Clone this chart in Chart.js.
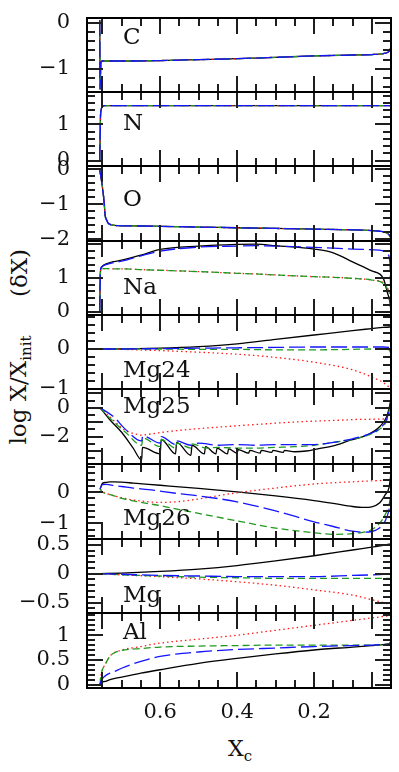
<!DOCTYPE html>
<html>
<head>
<meta charset="utf-8">
<script src="https://cdn.jsdelivr.net/npm/chart.js@4/dist/chart.umd.min.js"></script>
<style>
  html, body { margin: 0; padding: 0; background: #fff; }
  #wrap { position: relative; width: 399px; height: 772px; overflow: hidden;
          font-family: "DejaVu Serif", serif; color: #111; }
  canvas { position: absolute; left: 0; }
  .title { position: absolute; white-space: nowrap; font-size: 23px; line-height: 1; }
  .rot { transform: translate(-50%, -50%) rotate(-90deg); }
  .title sub { font-size: 15px; vertical-align: -5px; }
</style>
</head>
<body>
<div id="wrap">
  <div class="title rot" style="left:20px; top:390px">log X/X<sub>init</sub></div>
  <div class="title rot" style="left:19px; top:273px">(δX)</div>
  <div class="title" style="left:228px; top:738px; font-size:22px">X<sub>c</sub></div>
</div>
<script>
// Abundance tracks against central hydrogen fraction, nine stacked panels.

// --- x axis (central H mass fraction, reversed) ---
const X_MAX = 0.79;
const X_MAJOR = [0.75, 0.6, 0.4, 0.2, 0.05];
const X_LABELS = [0.6, 0.4, 0.2];

// --- C ---
const C_X = [0.757, 0.756, 0.754, 0.75, 0.70, 0.60, 0.50, 0.40, 0.30, 0.20, 0.10, 0.05, 0.02, 0.008, 0.003, 0.0];
const C_Y = [0.05, -1.44, -0.86, -0.83, -0.83, -0.82, -0.80, -0.78, -0.75, -0.72, -0.70, -0.69, -0.67, -0.64, -0.60, -0.53];

// --- N ---
const N_X = [0.757, 0.756, 0.755, 0.753, 0.75, 0.745, 0.70, 0.40, 0.0];
const N_Y = [0.0, 0.6, 1.2, 1.42, 1.5, 1.52, 1.52, 1.52, 1.52];

// --- O ---
const O_X = [0.757, 0.754, 0.751, 0.748, 0.745, 0.743, 0.739, 0.735, 0.725, 0.71, 0.65, 0.60, 0.50, 0.40, 0.30, 0.20, 0.10, 0.05, 0.03, 0.015, 0.005, 0.0];
const O_Y = [0.0, -0.2, -0.42, -0.67, -1.0, -1.3, -1.45, -1.54, -1.59, -1.61, -1.62, -1.63, -1.65, -1.67, -1.69, -1.71, -1.73, -1.75, -1.77, -1.80, -1.87, -1.97];

// --- Na ---
const NA_X = [0.757, 0.756, 0.755, 0.753, 0.75, 0.74, 0.72, 0.70, 0.65, 0.60, 0.50, 0.40, 0.35, 0.30, 0.20, 0.15, 0.10, 0.05, 0.02, 0.01, 0.003, 0.0];
const NA_BLACK = [0.0, 0.8, 1.2, 1.3, 1.35, 1.42, 1.49, 1.53, 1.68, 1.85, 1.95, 2.0, 2.01, 1.96, 1.86, 1.75, 1.48, 1.21, 0.99, 0.59, 0.29, 0.0];
const NA_BLUE = [0.0, 0.8, 1.25, 1.32, 1.35, 1.4, 1.46, 1.5, 1.66, 1.8, 1.92, 1.95, 1.96, 1.95, 1.91, 1.89, 1.86, 1.84, 1.81, 1.73, 1.48, 0.2];
const NA_GREEN = [0.0, 0.8, 1.2, 1.27, 1.28, 1.28, 1.27, 1.27, 1.25, 1.23, 1.19, 1.14, 1.12, 1.09, 1.04, 1.02, 0.99, 0.94, 0.84, 0.69, 0.44, -0.05];
const NA_RED = [0.0, 0.8, 1.2, 1.27, 1.28, 1.28, 1.27, 1.27, 1.25, 1.23, 1.19, 1.14, 1.12, 1.09, 1.04, 1.02, 0.99, 0.94, 0.86, 0.72, 0.5, 0.2];

// --- shared coarse grid (Mg24, Mg) ---
const G_X = [0.756, 0.70, 0.60, 0.50, 0.40, 0.30, 0.20, 0.10, 0.05, 0.02, 0.005, 0.0];
const MG24_BLACK = [0, 0.0, 0.02, 0.06, 0.13, 0.24, 0.35, 0.46, 0.51, 0.54, 0.55, 0.56];
const MG24_BLUE = [0, 0.0, 0.01, 0.02, 0.03, 0.04, 0.05, 0.05, 0.05, 0.05, 0.04, -0.1];
const MG24_GREEN = [0, 0.0, 0.0, -0.01, -0.01, -0.02, -0.02, -0.01, 0.0, 0.0, -0.02, -0.12];
const MG24_RED = [0, -0.01, -0.04, -0.08, -0.13, -0.21, -0.33, -0.52, -0.70, -0.84, -0.95, -1.0];

// --- Mg25 (sawtooth from convective episodes) ---
const MG25_BLACK_X = [0.756, 0.73, 0.70, 0.67, 0.648, 0.646, 0.600, 0.597, 0.560, 0.557, 0.520, 0.517, 0.485, 0.482, 0.455, 0.452, 0.425, 0.422, 0.40, 0.397, 0.37, 0.367, 0.34, 0.337, 0.31, 0.307, 0.28, 0.277, 0.25, 0.22, 0.19, 0.15, 0.106, 0.063, 0.029, 0.011, 0.003, 0.0];
const MG25_BLACK = [0.0, -0.85, -1.7, -2.8, -3.62, -2.75, -3.2, -2.2, -3.2, -2.4, -3.3, -2.6, -3.2, -2.7, -3.2, -2.8, -3.2, -2.85, -3.15, -2.9, -3.15, -2.95, -3.15, -2.95, -3.1, -2.95, -3.1, -2.95, -3.05, -3.0, -2.85, -2.65, -2.25, -1.9, -1.3, -0.6, 0.2, 0.6];
const MG25_GREEN_X = [0.756, 0.72, 0.69, 0.648, 0.645, 0.60, 0.597, 0.56, 0.557, 0.52, 0.517, 0.48, 0.45, 0.40, 0.35, 0.30, 0.25, 0.20, 0.15, 0.10, 0.06, 0.03, 0.01, 0.0];
const MG25_GREEN = [0.0, -1.0, -1.7, -2.6, -2.1, -2.7, -2.2, -2.8, -2.45, -2.8, -2.5, -2.8, -2.75, -2.8, -2.8, -2.75, -2.7, -2.6, -2.4, -2.2, -1.9, -1.5, -0.8, 0.4];
const MG25_BLUE_X = [0.756, 0.72, 0.69, 0.648, 0.645, 0.60, 0.597, 0.56, 0.557, 0.52, 0.50, 0.45, 0.40, 0.35, 0.30, 0.25, 0.20, 0.15, 0.10, 0.06, 0.03, 0.01, 0.0];
const MG25_BLUE = [0.0, -0.65, -1.5, -2.3, -1.95, -2.45, -2.0, -2.55, -2.3, -2.6, -2.45, -2.6, -2.55, -2.6, -2.55, -2.55, -2.55, -2.4, -2.15, -1.85, -1.45, -0.7, 0.5];
const MG25_RED_X = [0.756, 0.72, 0.695, 0.66, 0.65, 0.62, 0.58, 0.50, 0.41, 0.30, 0.236, 0.15, 0.063, 0.02, 0.005, 0.0];
const MG25_RED = [0.0, -0.9, -1.5, -1.85, -1.9, -1.8, -1.65, -1.45, -1.27, -1.07, -0.97, -0.88, -0.8, -0.78, -0.5, 0.3];

// --- Mg26 ---
const MG26_X = [0.756, 0.75, 0.74, 0.73, 0.72, 0.70, 0.67, 0.63, 0.60, 0.55, 0.50, 0.40, 0.30, 0.20, 0.15, 0.10, 0.07, 0.05, 0.03, 0.015, 0.005, 0.0];
const MG26_BLACK = [0.1, 0.28, 0.31, 0.33, 0.33, 0.32, 0.29, 0.25, 0.22, 0.17, 0.12, 0.01, -0.12, -0.27, -0.36, -0.46, -0.49, -0.47, -0.35, -0.08, 0.15, 0.6];
const MG26_BLUE = [0.1, 0.24, 0.25, 0.23, 0.21, 0.18, 0.13, 0.08, 0.03, -0.05, -0.12, -0.31, -0.6, -0.95, -1.1, -1.25, -1.28, -1.26, -1.15, -0.92, -0.55, -0.1];
const MG26_GREEN = [0.1, 0.0, -0.05, -0.08, -0.12, -0.2, -0.28, -0.37, -0.43, -0.56, -0.68, -0.92, -1.15, -1.3, -1.35, -1.33, -1.28, -1.2, -1.0, -0.72, -0.4, -0.1];
const MG26_RED = [0.1, 0.02, -0.04, -0.08, -0.12, -0.18, -0.25, -0.31, -0.33, -0.3, -0.22, -0.02, 0.13, 0.26, 0.3, 0.33, 0.35, 0.36, 0.37, 0.38, 0.38, 0.39];

// --- Mg (total) ---
const MG_BLACK = [0, 0.01, 0.04, 0.08, 0.14, 0.22, 0.31, 0.41, 0.46, 0.49, 0.51, 0.51];
const MG_BLUE = [0, -0.01, -0.03, -0.04, -0.05, -0.05, -0.05, -0.03, -0.02, -0.01, 0.0, 0.01];
const MG_GREEN = [0, -0.02, -0.04, -0.06, -0.07, -0.08, -0.08, -0.08, -0.08, -0.08, -0.08, -0.08];
const MG_RED = [0, -0.02, -0.05, -0.09, -0.14, -0.2, -0.28, -0.37, -0.45, -0.5, -0.53, -0.55];

// --- Al ---
const AL_X = [0.756, 0.755, 0.753, 0.75, 0.745, 0.74, 0.73, 0.72, 0.70, 0.65, 0.60, 0.50, 0.40, 0.30, 0.20, 0.10, 0.05, 0.02, 0.005, 0.0];
const AL_BLACK = [0, 0.02, 0.03, 0.05, 0.06, 0.07, 0.1, 0.12, 0.15, 0.23, 0.3, 0.43, 0.53, 0.62, 0.70, 0.76, 0.79, 0.81, 0.83, 0.87];
const AL_BLUE = [0, 0.04, 0.08, 0.12, 0.16, 0.19, 0.23, 0.26, 0.33, 0.47, 0.57, 0.66, 0.71, 0.74, 0.77, 0.79, 0.8, 0.81, 0.82, 0.84];
const AL_GREEN = [0, 0.1, 0.2, 0.3, 0.38, 0.45, 0.58, 0.64, 0.69, 0.73, 0.76, 0.78, 0.79, 0.8, 0.8, 0.8, 0.8, 0.81, 0.83, 0.88];
const AL_RED = [0, 0.1, 0.2, 0.3, 0.38, 0.45, 0.58, 0.64, 0.7, 0.77, 0.84, 0.92, 1.0, 1.1, 1.2, 1.3, 1.35, 1.38, 1.4, 1.41];

// Panel boundaries in page pixels (top of each panel, last = bottom of Al)
const EDGES = [18, 92, 166, 241, 315, 389, 464, 539, 613, 688];

const STYLE = {
  black: { borderColor: "#000000", borderDash: [] },
  red:   { borderColor: "#ff1a1a", borderDash: [1.5, 3] },
  green: { borderColor: "#1f9a1f", borderDash: [7, 4] },
  blue:  { borderColor: "#1414ff", borderDash: [16, 5] },
};

const pts = (xs, ys) => xs.map((xv, i) => ({ x: xv, y: ys[i] }));

// name, y range, labelled ticks, minor step, major step, label offset, series
const PANELS = [
  { name: "C", min: -1.5, max: 0.1, labels: [0, -1], minor: 0.2, major: 1, dy: 26,
    series: { black: pts(C_X, C_Y), red: pts(C_X, C_Y), green: pts(C_X, C_Y), blue: pts(C_X, C_Y) } },
  { name: "N", min: -0.15, max: 1.9, labels: [0, 1], minor: 0.2, major: 1, dy: 38,
    series: { black: pts(N_X, N_Y), red: pts(N_X, N_Y), green: pts(N_X, N_Y), blue: pts(N_X, N_Y) } },
  { name: "O", min: -2.05, max: 0.1, labels: [0, -1, -2], minor: 0.2, major: 1, dy: 40,
    series: { black: pts(O_X, O_Y), red: pts(O_X, O_Y), green: pts(O_X, O_Y), blue: pts(O_X, O_Y) } },
  { name: "Na", min: -0.1, max: 2.1, labels: [0, 1], minor: 0.2, major: 1, dy: 53,
    series: { black: pts(NA_X, NA_BLACK), red: pts(NA_X, NA_RED), green: pts(NA_X, NA_GREEN), blue: pts(NA_X, NA_BLUE) } },
  { name: "Mg24", min: -1.0, max: 0.85, labels: [0, -1], minor: 0.2, major: 1, dy: 62,
    series: { black: pts(G_X, MG24_BLACK), red: pts(G_X, MG24_RED), green: pts(G_X, MG24_GREEN), blue: pts(G_X, MG24_BLUE) } },
  { name: "Mg25", min: -3.9, max: 1.3, labels: [0, -2], minor: 0.5, major: 1, dy: 24,
    series: { black: pts(MG25_BLACK_X, MG25_BLACK), red: pts(MG25_RED_X, MG25_RED), green: pts(MG25_GREEN_X, MG25_GREEN), blue: pts(MG25_BLUE_X, MG25_BLUE) } },
  { name: "Mg26", min: -1.5, max: 0.9, labels: [0, -1], minor: 0.2, major: 1, dy: 61,
    series: { black: pts(MG26_X, MG26_BLACK), red: pts(MG26_X, MG26_RED), green: pts(MG26_X, MG26_GREEN), blue: pts(MG26_X, MG26_BLUE) } },
  { name: "Mg", min: -0.68, max: 0.6, labels: [0.5, 0, -0.5], minor: 0.1, major: 0.5, dy: 63,
    series: { black: pts(G_X, MG_BLACK), red: pts(G_X, MG_RED), green: pts(G_X, MG_GREEN), blue: pts(G_X, MG_BLUE) } },
  { name: "Al", min: -0.07, max: 1.45, labels: [1, 0.5, 0], minor: 0.1, major: 0.5, dy: 26,
    series: { black: pts(AL_X, AL_BLACK), red: pts(AL_X, AL_RED), green: pts(AL_X, AL_GREEN), blue: pts(AL_X, AL_BLUE) } },
];

const FONT = { family: "DejaVu Serif", size: 21 };
const fmtY = v => v === 0 ? "0" : (v < 0 ? "\u2212" : "") + Math.abs(v);

// inward ticks, frame and panel name (drawn on top of everything)
function drawFrame(chart, p) {
  const ctx = chart.ctx;
  const a = chart.chartArea;
  const sx = chart.scales.x, sy = chart.scales.y;
  ctx.save();
  ctx.globalAlpha = 1;
  ctx.globalCompositeOperation = "source-over";
  ctx.fillStyle = "#1e1e1e";
  for (let k = 1; k <= 15; k++) {
    const v = k / 20;
    const px = Math.round(sx.getPixelForValue(v));
    const len = X_MAJOR.some(m => Math.abs(m - v) < 1e-6) ? 16 : 8;
    ctx.fillRect(px - 1, a.top, 2, len);
    ctx.fillRect(px - 1, a.bottom - len, 2, len);
  }
  const start = Math.ceil(p.min / p.minor - 1e-6);
  for (let k = start; k * p.minor <= p.max + 1e-6; k++) {
    const v = Math.round(k * p.minor * 1000) / 1000;
    const py = Math.round(sy.getPixelForValue(v));
    const r = v / p.major;
    const len = Math.abs(r - Math.round(r)) < 1e-6 ? 16 : 8;
    ctx.fillRect(a.left, py - 1, len, 2);
    ctx.fillRect(a.right - len, py - 1, len, 2);
  }
  ctx.fillStyle = "#000";
  ctx.fillRect(a.left - 1, a.top - 1, a.right - a.left + 2, 2);
  ctx.fillRect(a.left - 1, a.bottom - 1, a.right - a.left + 2, 2);
  ctx.fillRect(a.left - 1, a.top - 1, 2, a.bottom - a.top + 2);
  ctx.fillRect(a.right - 1, a.top - 1, 2, a.bottom - a.top + 2);
  ctx.fillStyle = "#111";
  ctx.font = '23px "DejaVu Serif"';
  ctx.textBaseline = "alphabetic";
  ctx.textAlign = "left";
  ctx.fillText(p.name, 123, a.top + p.dy);
  ctx.restore();
}

// scales must not add their own label overhang around the plot area
const noOverhang = s => {
  s.paddingTop = 0; s.paddingBottom = 0; s.paddingLeft = 0; s.paddingRight = 0;
};

const wrap = document.getElementById("wrap");

PANELS.forEach((p, i) => {
  const last = i === PANELS.length - 1;
  const padT = 14;
  const xAxisH = last ? 40 : 0;
  const top = EDGES[i] - padT;
  const bottom = last ? 772 : EDGES[i + 1] + 14;
  const padB = bottom - EDGES[i + 1] - xAxisH;

  const canvas = document.createElement("canvas");
  canvas.width = 399;
  canvas.height = bottom - top;
  canvas.style.top = top + "px";
  wrap.appendChild(canvas);

  const order = ["blue", "green", "red", "black"];
  new Chart(canvas, {
    type: "line",
    data: {
      datasets: order.map(k => ({
        data: p.series[k],
        borderColor: STYLE[k].borderColor,
        borderDash: STYLE[k].borderDash,
        borderWidth: 1.3,
        pointRadius: 0,
        fill: false,
        cubicInterpolationMode: "monotone",
      })),
    },
    options: {
      responsive: false,
      animation: false,
      devicePixelRatio: 1,
      layout: { padding: { top: padT, bottom: padB, left: 0, right: 8 } },
      plugins: { legend: { display: false }, tooltip: { enabled: false } },
      scales: {
        x: {
          type: "linear", min: 0, max: X_MAX, reverse: true,
          display: last,
          grid: { display: false, drawTicks: false },
          border: { display: false },
          afterBuildTicks: s => { s.ticks = X_LABELS.map(v => ({ value: v })); },
          afterFit: s => { s.height = xAxisH; noOverhang(s); },
          ticks: { font: FONT, color: "#111", padding: 12, maxRotation: 0, callback: v => String(v) },
        },
        y: {
          type: "linear", min: p.min, max: p.max,
          grid: { display: false, drawTicks: false },
          border: { display: false },
          afterBuildTicks: s => { s.ticks = p.labels.map(v => ({ value: v })); },
          afterFit: s => { s.width = 87; noOverhang(s); },
          ticks: { font: FONT, color: "#111", padding: 17, autoSkip: false, callback: fmtY },
        },
      },
    },
    plugins: [{ id: "frame" + i, afterDraw: chart => drawFrame(chart, p) }],
  });
});
</script>
</body>
</html>
